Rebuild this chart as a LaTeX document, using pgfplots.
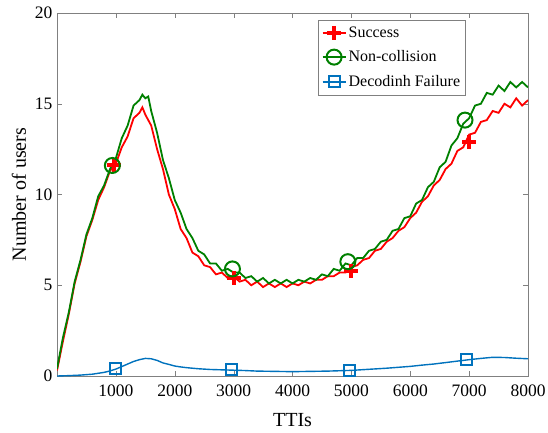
\documentclass[border=0pt]{standalone}
\usepackage{fontspec}
\setmainfont{Liberation Serif}
\usepackage{pgfplots}
\pgfplotsset{compat=1.18}
\definecolor{mred}{rgb}{1,0,0}
\definecolor{mgreen}{rgb}{0,0.5,0}
\definecolor{mblue}{rgb}{0,0.447,0.741}
\begin{document}
\begin{tikzpicture}
\useasboundingbox (-57pt,-56pt) rectangle (491pt,376pt);
\begin{axis}[
 at={(0,0)}, anchor=south west,
 scale only axis, width=471pt, height=363pt,
 xmin=0, xmax=8000, ymin=0, ymax=20,
 xtick={1000,2000,...,8000}, ytick={0,5,...,20},
 tick align=inside, major tick length=5pt,
 axis line style={black!50}, tick style={black!50},
 ticklabel style={font=\fontsize{17.5}{20}\selectfont},
 /pgf/number format/assume math mode=true,
 /pgf/number format/1000 sep={},
 scaled x ticks=false,
 xticklabel style={yshift=-5pt},
 yticklabel style={xshift=-1pt},
 xlabel={TTIs}, ylabel={Number of users},
 label style={font=\fontsize{20}{24}\selectfont},
 xlabel style={at={(axis description cs:0.5,-0.14)}, anchor=base},
 ylabel style={at={(axis description cs:-0.066,0.5)}, anchor=base},
 legend style={at={(axis description cs:0.555,0.982)}, anchor=north west,
   draw=black!50, font=\fontsize{16}{19}\selectfont, inner xsep=3pt, inner ysep=5pt,
   row sep=8pt, cells={anchor=west}},
 legend image code/.code={\draw[mark repeat=2,mark phase=2,#1] plot coordinates {(0pt,0pt) (11.5pt,0pt) (23pt,0pt)};},
]
\addlegendimage{mred, line width=2pt, mark=+, mark size=7pt, mark options={line width=4pt}}
\addlegendentry{Success}
\addlegendimage{mgreen, line width=2pt, mark=o, mark size=7.5pt, mark options={line width=2pt}}
\addlegendentry{Non-collision}
\addlegendimage{mblue, line width=2pt, mark=square, mark size=5.5pt, mark options={line width=2pt}}
\addlegendentry{Decodinh Failure}

% Success
\addplot[mred, line width=1.8pt, forget plot] coordinates {
(0,0.3) (100,1.9) (200,3.4) (300,5.1) (400,6.3) (500,7.7) (600,8.6) (700,9.7) (800,10.4) (900,11.3)
(1000,11.7) (1100,12.6) (1200,13.2) (1300,14.2) (1400,14.5) (1450,14.8) (1500,14.4) (1600,13.8) (1700,12.5) (1800,11.4) (1900,10.0)
(2000,9.2) (2100,8.1) (2200,7.6) (2300,6.8) (2400,6.6) (2500,6.1) (2600,6.0) (2700,5.6) (2800,5.7) (2900,5.4)
(3000,5.5) (3100,5.2) (3200,5.3) (3300,5.0) (3400,5.2) (3500,4.9) (3600,5.1) (3700,4.9) (3800,5.1) (3900,4.9)
(4000,5.1) (4100,5.0) (4200,5.2) (4300,5.1) (4400,5.3) (4500,5.3) (4600,5.5) (4700,5.5) (4800,5.7) (4900,5.7)
(5000,6.0) (5100,6.1) (5200,6.4) (5300,6.5) (5400,6.9) (5500,7.0) (5600,7.4) (5700,7.6) (5800,8.0) (5900,8.2)
(6000,8.7) (6100,9.0) (6200,9.6) (6300,9.9) (6400,10.5) (6500,10.8) (6600,11.4) (6700,11.7) (6800,12.4) (6900,12.6)
(7000,13.3) (7100,13.4) (7200,14.0) (7300,14.1) (7400,14.6) (7500,14.5) (7600,15.0) (7700,14.8) (7800,15.3) (7900,14.9) (8000,15.2)
};
% Non-collision
\addplot[mgreen, line width=1.8pt, forget plot] coordinates {
(0,0.4) (100,2.1) (200,3.5) (300,5.2) (400,6.4) (500,7.8) (600,8.7) (700,9.9) (800,10.5) (900,11.4)
(1000,12.0) (1100,13.1) (1200,13.8) (1300,14.9) (1400,15.2) (1450,15.5) (1500,15.3) (1550,15.4) (1600,14.6) (1700,13.4) (1800,11.9) (1900,10.9)
(2000,9.7) (2100,9.0) (2200,8.1) (2300,7.6) (2400,6.9) (2500,6.7) (2600,6.2) (2700,6.2) (2800,5.8) (2900,5.9)
(3000,5.7) (3100,5.7) (3200,5.4) (3300,5.5) (3400,5.2) (3500,5.4) (3600,5.1) (3700,5.3) (3800,5.1) (3900,5.3)
(4000,5.1) (4100,5.3) (4200,5.2) (4300,5.4) (4400,5.3) (4500,5.6) (4600,5.5) (4700,5.9) (4800,5.8) (4900,6.2)
(5000,6.1) (5100,6.5) (5200,6.5) (5300,6.9) (5400,7.0) (5500,7.4) (5600,7.5) (5700,8.0) (5800,8.1) (5900,8.7)
(6000,8.8) (6100,9.5) (6200,9.7) (6300,10.4) (6400,10.7) (6500,11.5) (6600,11.8) (6700,12.7) (6800,13.1) (6900,13.9)
(7000,14.2) (7100,14.9) (7200,15.0) (7300,15.6) (7400,15.5) (7500,16.0) (7600,15.7) (7700,16.2) (7800,15.9) (7900,16.2) (8000,15.9)
};
% Decoding failure
\addplot[mblue, line width=1.4pt, forget plot] coordinates {
(0,0.0) (200,0.02) (400,0.05) (600,0.1) (800,0.2) (900,0.28) (1000,0.38) (1100,0.52) (1200,0.66) (1300,0.8)
(1400,0.9) (1500,0.97) (1600,0.95) (1700,0.86) (1800,0.72) (1900,0.64) (2000,0.55) (2100,0.5) (2200,0.46) (2300,0.43)
(2400,0.4) (2600,0.36) (2800,0.34) (3000,0.32) (3200,0.3) (3400,0.27) (3600,0.26) (3800,0.25) (4000,0.24) (4200,0.25)
(4400,0.26) (4600,0.27) (4800,0.29) (5000,0.31) (5200,0.35) (5400,0.39) (5600,0.43) (5800,0.48) (6000,0.53) (6200,0.6)
(6400,0.66) (6600,0.74) (6800,0.82) (7000,0.9) (7200,0.97) (7400,1.03) (7600,1.02) (7800,0.98) (8000,0.95)
};
% markers
\addplot[only marks, mred, mark=+, mark size=7pt, mark options={line width=4pt}, forget plot] coordinates {
(960,11.6) (3000,5.4) (5000,5.8) (7000,12.9)};
\addplot[only marks, mgreen, mark=o, mark size=7.5pt, mark options={line width=2pt}, forget plot] coordinates {
(940,11.6) (2980,5.9) (4940,6.3) (6930,14.1)};
\addplot[only marks, mblue, mark=square, mark size=5.5pt, mark options={line width=2pt}, forget plot] coordinates {
(1000,0.4) (2970,0.35) (4960,0.32) (6950,0.9)};
\end{axis}
\end{tikzpicture}
\end{document}
